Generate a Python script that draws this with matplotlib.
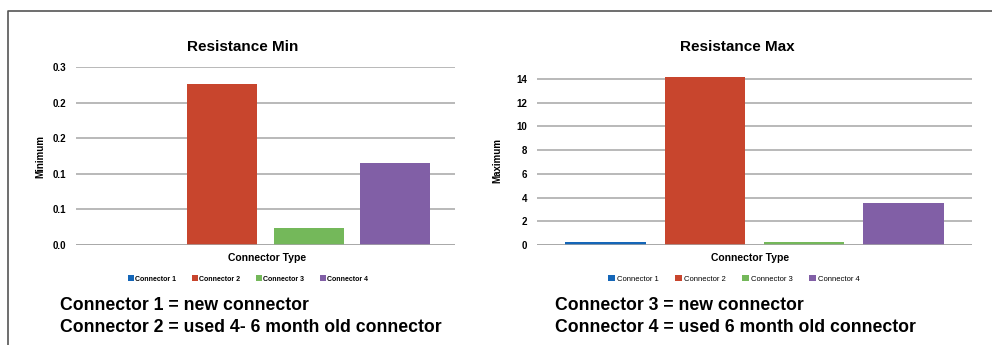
import matplotlib
matplotlib.use("Agg")
import matplotlib.pyplot as plt
from matplotlib.patches import Patch
from matplotlib.lines import Line2D

plt.rcParams['font.family'] = ['Liberation Sans', 'DejaVu Sans']

connectors = ["Connector 1", "Connector 2", "Connector 3", "Connector 4"]
colors = ["#1466b8", "#c8452d", "#74b85a", "#815fa6"]
min_values = [0.0, 0.226, 0.0235, 0.115]
max_values = [0.25, 14.15, 0.25, 3.55]
min_ticks = [0.0, 0.05, 0.10, 0.15, 0.20, 0.25]
min_tick_labels = ["0.0", "0.1", "0.1", "0.2", "0.2", "0.3"]
max_ticks = [0, 2, 4, 6, 8, 10, 12, 14]
max_tick_labels = ["0", "2", "4", "6", "8", "10", "12", "14"]
notes_left = ["Connector 1 = new connector", "Connector 2 = used 4- 6 month old connector"]
notes_right = ["Connector 3 = new connector", "Connector 4 = used 6 month old connector"]

W, H = 992, 345
fig = plt.figure(figsize=(W / 100, H / 100), dpi=100)


def fx(px):
    return px / W


def fy(py):
    return 1 - py / H


# frame
fig.add_artist(Line2D([fx(8), fx(8), 1.0], [0.0, fy(11), fy(11)],
                      transform=fig.transFigure, color="#555555", lw=1.2))


def make_chart(rect, values, ticks, labels, ylim, title, ylabel, title_cx, xlabel_cx,
               ylabel_x, legend_cx, legend_size, legend_weight, colspace):
    ax = fig.add_axes(rect)
    x = list(range(len(values)))
    ax.bar(x, values, width=0.81, color=colors, zorder=3)
    ax.set_xlim(-0.69, 3.69)
    ax.set_ylim(*ylim)
    ax.set_yticks(ticks)
    ax.set_yticklabels(labels, fontsize=7, fontweight="bold")
    ax.set_xticks([])
    for t in ticks:
        ax.axhline(t, color="#a6a6a6", lw=1.1, zorder=1)
    ax.axhline(0, color="#a6a6a6", lw=1.8, zorder=4)
    for s in ax.spines.values():
        s.set_visible(False)
    ax.tick_params(axis="y", length=0, pad=7)
    bb = ax.get_position()
    fig.text(fx(title_cx), fy(47), title, ha="center", va="center", fontsize=11, fontweight="bold")
    fig.text(fx(xlabel_cx), fy(258), "Connector Type", ha="center", va="center",
             fontsize=7.5, fontweight="bold")
    fig.text(fx(ylabel_x), (bb.y0 + bb.y1) / 2, ylabel, ha="center", va="center",
             rotation=90, fontsize=7, fontweight="bold")
    handles = [Patch(facecolor=c, edgecolor="none") for c in colors]
    fig.legend(handles, connectors, loc="center", bbox_to_anchor=(fx(legend_cx), fy(279)),
               ncol=4, frameon=False, handlelength=0.9, handleheight=0.9,
               handletextpad=0.2, columnspacing=colspace,
               prop={"size": legend_size, "weight": legend_weight})
    return ax


# left chart: y 0 at px 245, 0.25 at px 67
make_chart([fx(76), fy(245), fx(455) - fx(76), (245 - 67) / H],
           min_values, min_ticks, min_tick_labels, (0, 0.25),
           "Resistance Min", "Minimum", 243, 267, 40, 248, 5, "bold", 2.2)

# right chart: 0 at px 245, 14 at px 79 -> top at 14.3
top_px = 245 - 14.3 * (245 - 79) / 14
make_chart([fx(537), fy(245), fx(972) - fx(537), (245 - top_px) / H],
           max_values, max_ticks, max_tick_labels, (0, 14.3),
           "Resistance Max", "Maximum", 737, 750, 497, 734, 5.5, "normal", 2.2)

for i, line in enumerate(notes_left):
    fig.text(fx(60), fy(306 + 21 * i), line, ha="left", va="center", fontsize=12.7, fontweight="bold")
for i, line in enumerate(notes_right):
    fig.text(fx(555), fy(306 + 21 * i), line, ha="left", va="center", fontsize=12.7, fontweight="bold")

fig.savefig("out.png", dpi=100)
